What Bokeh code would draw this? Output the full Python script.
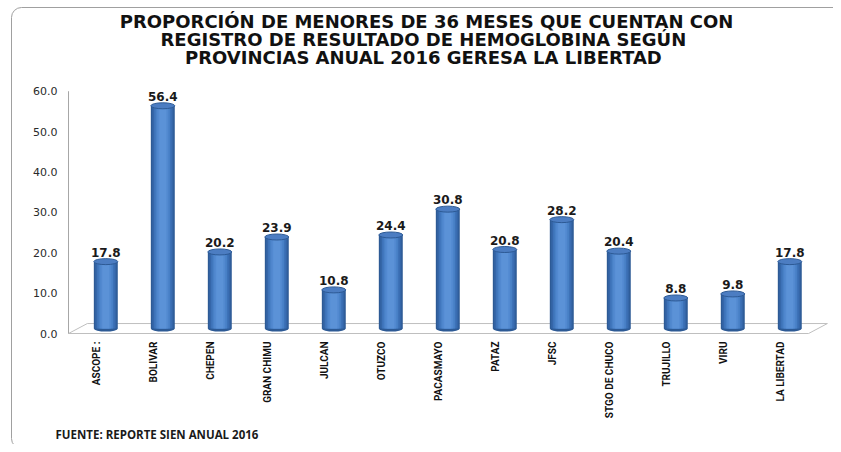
from bokeh.plotting import figure
from bokeh.models import (Range1d, FixedTicker, PrintfTickFormatter, Label,
                          Title, ColumnDataSource)
from bokeh.embed import file_html
from bokeh.resources import INLINE
from bokeh.core.properties import value
import math

# ---------------- data ----------------
categories = ["ASCOPE :", "BOLIVAR", "CHEPEN", "GRAN CHIMU", "JULCAN", "OTUZCO",
              "PACASMAYO", "PATAZ", "JFSC", "STGO DE CHUCO", "TRUJILLO", "VIRU",
              "LA LIBERTAD"]
values = [17.8, 56.4, 20.2, 23.9, 10.8, 24.4, 30.8, 20.8, 28.2, 20.4, 8.8, 9.8, 17.8]
y_ticks = [0, 10, 20, 30, 40, 50, 60]
title_lines = ["PROPORCIÓN DE MENORES DE 36 MESES QUE CUENTAN CON",
               "REGISTRO DE RESULTADO DE HEMOGLOBINA  SEGÚN",
               "PROVINCIAS  ANUAL 2016 GERESA LA LIBERTAD"]
source_note = "FUENTE: REPORTE SIEN ANUAL 2016"

# ---------------- layout ----------------
n = len(categories)
xs = list(range(n))
W, H = 833, 444
ML, MB = 66, 107
frame_bottom = H - MB          # 337
x0, x1 = -0.6895, 12.767
y0, y1 = -0.741, 82.47

border_svg = ("data:image/svg+xml;utf8,<svg xmlns='http://www.w3.org/2000/svg' "
              "width='900' height='460'><rect x='11.5' y='7.5' width='880' "
              "height='441' rx='10' ry='10' fill='none' stroke='%23A0A0A0' "
              "stroke-width='1'/></svg>")

p = figure(width=W, height=H, x_range=Range1d(x0, x1), y_range=Range1d(y0, y1),
           output_backend="svg", toolbar_location=None, tools="", title=None,
           min_border_left=ML, min_border_right=0, min_border_top=0,
           min_border_bottom=MB)
p.styles = {"background-image": f'url("{border_svg}")',
            "background-repeat": "no-repeat",
            "background-position": "0 0"}
p.outline_line_color = None
p.background_fill_color = None
p.border_fill_color = None
p.xgrid.visible = False
p.ygrid.visible = False

# y axis
ya = p.yaxis[0]
ya.ticker = FixedTicker(ticks=y_ticks)
ya.formatter = PrintfTickFormatter(format="%.1f")
ya.axis_line_color = None
ya.major_tick_line_color = None
ya.minor_tick_line_color = None
ya.major_tick_out = 0
ya.major_label_standoff = 9
ya.major_label_text_font = "DejaVu Sans"
ya.major_label_text_font_size = "11px"
ya.major_label_text_color = "#2A2A2A"

# x axis (labels aligned with the front plane of the 3D floor)
lab_off = 0.17
xticks = [i - lab_off for i in xs]
xa = p.xaxis[0]
xa.ticker = FixedTicker(ticks=xticks)
xa.major_label_overrides = {t: c for t, c in zip(xticks, categories)}
xa.major_label_orientation = math.pi / 2
xa.axis_line_color = None
xa.major_tick_line_color = None
xa.minor_tick_line_color = None
xa.major_tick_out = 0
xa.major_label_standoff = 5
xa.major_label_text_font = "Roboto"
xa.major_label_text_font_style = "bold"
xa.major_label_text_font_size = "10px"
xa.major_label_text_color = "#111111"

# footer note below the axis labels
p.add_layout(Title(text=source_note, align="left", offset=-11, standoff=6,
                   text_font="Open Sans", text_font_style="bold",
                   text_font_size="11.5px", text_color="#1A1A1A"), "below")

# 3D floor
fx0, fx1 = -0.654, (n - 1) + 0.33
dx, dy = 0.33, 2.47
p.patch([fx0, fx1, fx1 + dx, fx0 + dx], [0, 0, dy, dy],
        fill_color="white", line_color="#BFBFBF", line_width=1)
# vertical axis line
p.segment(x0=[fx0], y0=[0], x1=[fx0], y1=[max(y_ticks)],
          line_color="#A6A6A6", line_width=1)

# cylinders
base = dy / 2
bw = 0.42
src = ColumnDataSource(dict(x=xs, top=values, bottom=[base] * n,
                            lbl=[f"{v:.1f}" for v in values]))
p.ellipse(x="x", y="bottom", width=bw, height=6, height_units="screen",
          source=src, fill_color="#2D5A95", line_color=None)
layers = [(1.00, "#2D5A95"), (0.88, "#3566A8"), (0.74, "#3D72B8"),
          (0.60, "#4880C6"), (0.46, "#5289D0"), (0.30, "#5B92D7")]
for frac, col in layers:
    p.vbar(x="x", top="top", bottom="bottom", width=bw * frac, source=src,
           fill_color=col, line_color=None)
p.ellipse(x="x", y="top", width=bw, height=6, height_units="screen",
          source=src, fill_color="#4C7DC2", line_color="#2D5A95", line_width=1)

# value labels
p.text(x="x", y="top", text="lbl", source=src, y_offset=-5,
       text_align="center", text_baseline="bottom",
       text_font=value("DejaVu Sans"), text_font_style="bold",
       text_font_size="12px", text_color="#1A1A1A")

# title lines (screen units relative to the plot frame)
for line, yc in zip(title_lines, [22, 40, 58]):
    p.add_layout(Label(x=426 - ML, y=frame_bottom - yc,
                       x_units="screen", y_units="screen", text=line,
                       text_align="center", text_baseline="middle",
                       text_font="DejaVu Sans", text_font_style="bold",
                       text_font_size="18px", text_color="#111111"))

open("out.html", "w").write(file_html(p, INLINE))
